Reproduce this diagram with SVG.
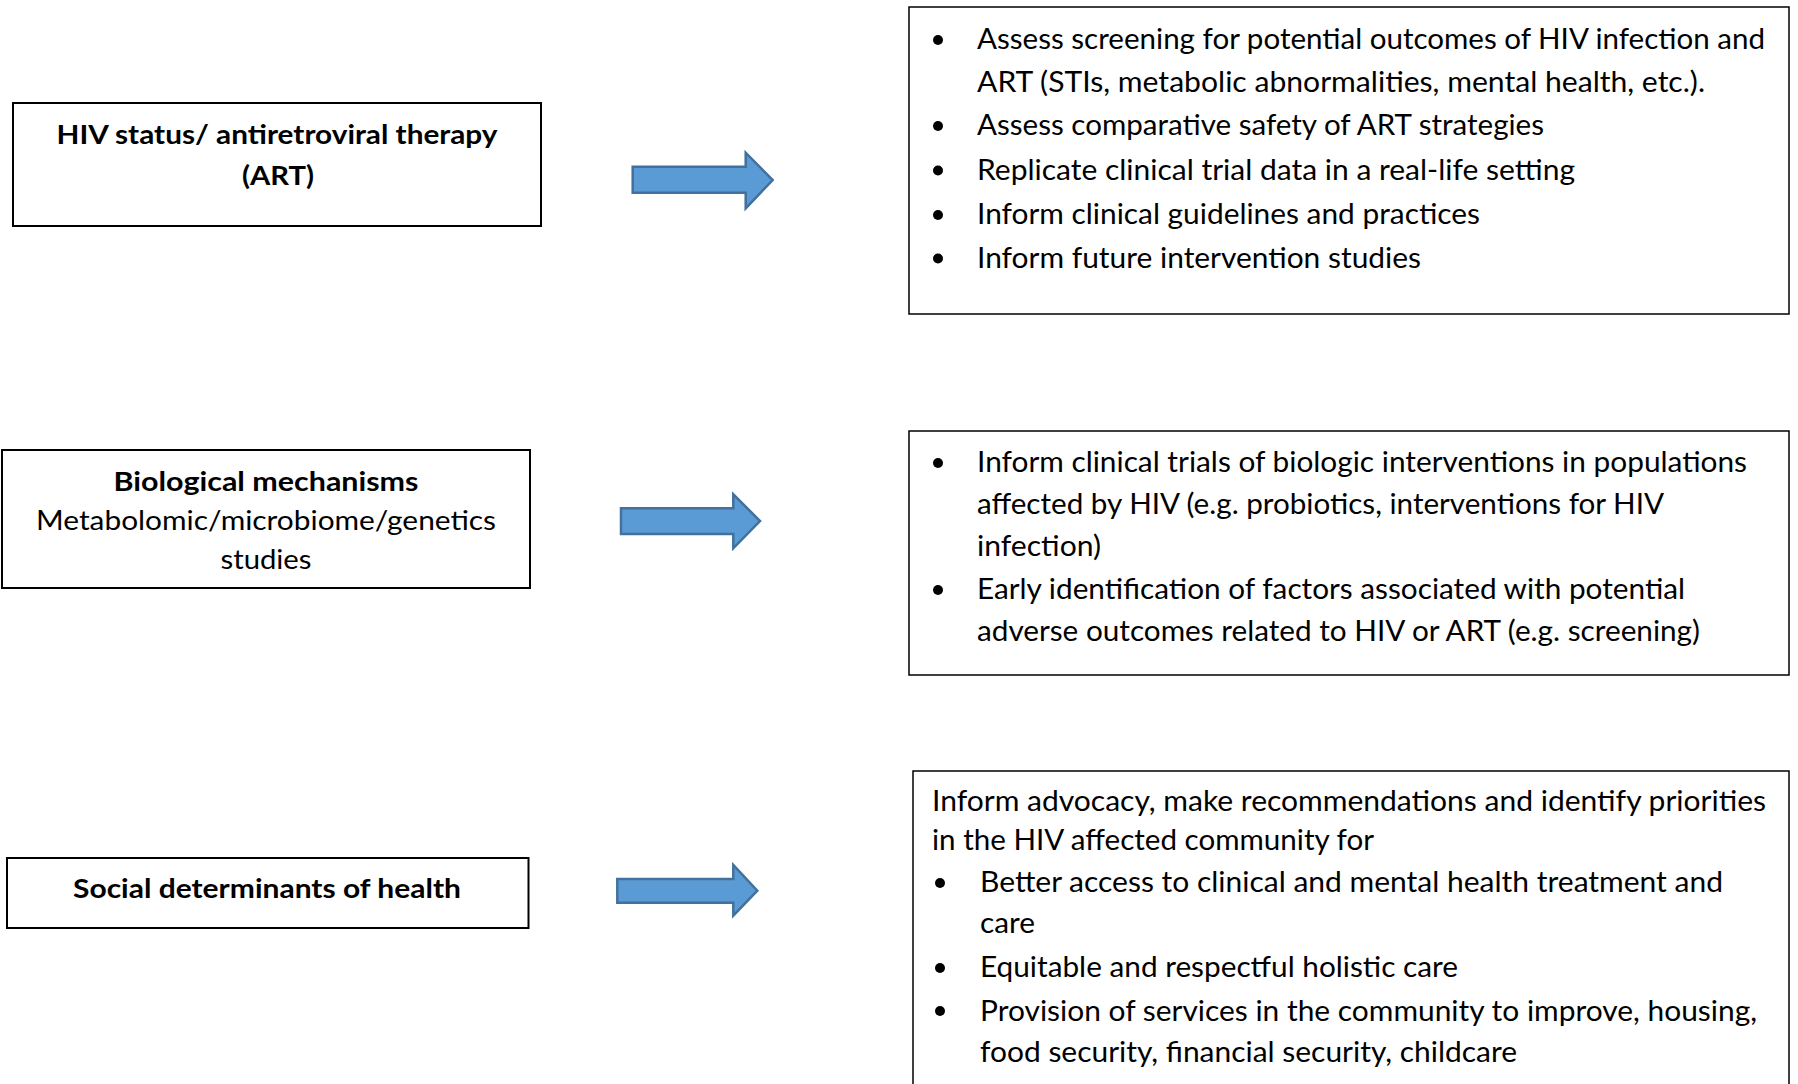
<svg xmlns="http://www.w3.org/2000/svg" width="1798" height="1084" viewBox="0 0 1798 1084">
<style>
.box{fill:#fff;stroke:#000;stroke-width:2}
.t{font-family:Lato,"Open Sans","Liberation Sans",sans-serif;fill:#000}
.r{font-size:29px}
.l{font-size:27px}
.b{font-weight:bold}
.m{text-anchor:middle}
.arrow{fill:#5B9BD5;stroke:#41719C;stroke-width:2.5}
.dot{fill:#000}
</style>
<rect width="1798" height="1084" fill="#fff"/>
<g id="node-hiv-art">
<rect class="box" x="13" y="103" width="528" height="123"/>
<text class="t l b m" x="277" y="143.5" textLength="441" lengthAdjust="spacingAndGlyphs">HIV status/ antiretroviral therapy</text>
<text class="t l b m" x="278" y="185" textLength="72" lengthAdjust="spacingAndGlyphs">(ART)</text>
</g>
<g id="node-bio">
<rect class="box" x="2" y="450" width="528" height="138"/>
<text class="t l b m" x="266" y="491" textLength="305" lengthAdjust="spacingAndGlyphs">Biological mechanisms</text>
<text class="t l m" x="266" y="530" textLength="460" lengthAdjust="spacingAndGlyphs">Metabolomic/microbiome/genetics</text>
<text class="t l m" x="266" y="569" textLength="91" lengthAdjust="spacingAndGlyphs">studies</text>
</g>
<g id="node-social">
<rect class="box" x="7" y="858" width="521.5" height="70"/>
<text class="t l b m" x="267" y="898" textLength="388" lengthAdjust="spacingAndGlyphs">Social determinants of health</text>
</g>
<g id="node-out1">
<rect class="box" x="909" y="7" width="880" height="307" style="stroke-width:1.5"/>
<circle class="dot" cx="938" cy="40" r="5"/>
<circle class="dot" cx="938" cy="126" r="5"/>
<circle class="dot" cx="938" cy="170.5" r="5"/>
<circle class="dot" cx="938" cy="215" r="5"/>
<circle class="dot" cx="938" cy="258.5" r="5"/>
<text class="t r" x="977" y="49" textLength="788" lengthAdjust="spacingAndGlyphs">Assess screening for potential outcomes of HIV infection and</text>
<text class="t r" x="977" y="92" textLength="728" lengthAdjust="spacingAndGlyphs">ART (STIs, metabolic abnormalities, mental health, etc.).</text>
<text class="t r" x="977" y="135" textLength="567" lengthAdjust="spacingAndGlyphs">Assess comparative safety of ART strategies</text>
<text class="t r" x="977" y="179.5" textLength="598" lengthAdjust="spacingAndGlyphs">Replicate clinical trial data in a real-life setting</text>
<text class="t r" x="977" y="224" textLength="503" lengthAdjust="spacingAndGlyphs">Inform clinical guidelines and practices</text>
<text class="t r" x="977" y="267.5" textLength="444" lengthAdjust="spacingAndGlyphs">Inform future intervention studies</text>
</g>
<g id="node-out2">
<rect class="box" x="909" y="431" width="880" height="244" style="stroke-width:1.5"/>
<circle class="dot" cx="938" cy="463" r="5"/>
<circle class="dot" cx="938" cy="590" r="5"/>
<text class="t r" x="977" y="472" textLength="770" lengthAdjust="spacingAndGlyphs">Inform clinical trials of biologic interventions in populations</text>
<text class="t r" x="977" y="514" textLength="687" lengthAdjust="spacingAndGlyphs">affected by HIV (e.g. probiotics, interventions for HIV</text>
<text class="t r" x="977" y="556" textLength="124" lengthAdjust="spacingAndGlyphs">infection)</text>
<text class="t r" x="977" y="599" textLength="708" lengthAdjust="spacingAndGlyphs">Early identification of factors associated with potential</text>
<text class="t r" x="977" y="641" textLength="723" lengthAdjust="spacingAndGlyphs">adverse outcomes related to HIV or ART (e.g. screening)</text>
</g>
<g id="node-out3">
<rect class="box" x="913" y="771" width="876" height="330" style="stroke-width:1.5"/>
<circle class="dot" cx="940" cy="883" r="5"/>
<circle class="dot" cx="940" cy="968" r="5"/>
<circle class="dot" cx="940" cy="1011" r="5"/>
<text class="t r" x="932" y="811" textLength="834" lengthAdjust="spacingAndGlyphs">Inform advocacy, make recommendations and identify priorities</text>
<text class="t r" x="932" y="850" textLength="442" lengthAdjust="spacingAndGlyphs">in the HIV affected community for</text>
<text class="t r" x="980" y="892" textLength="743" lengthAdjust="spacingAndGlyphs">Better access to clinical and mental health treatment and</text>
<text class="t r" x="980" y="933" textLength="55" lengthAdjust="spacingAndGlyphs">care</text>
<text class="t r" x="980" y="977" textLength="478" lengthAdjust="spacingAndGlyphs">Equitable and respectful holistic care</text>
<text class="t r" x="980" y="1020.5" textLength="777" lengthAdjust="spacingAndGlyphs">Provision of services in the community to improve, housing,</text>
<text class="t r" x="980" y="1062" textLength="537" lengthAdjust="spacingAndGlyphs">food security, financial security, childcare</text>
</g>
<g id="connectors">
<path class="arrow" d="M632.7,166.7 H745.7 V152.7 L772.7,180 L745.7,208.3 V192.7 H632.7 Z"/>
<path class="arrow" d="M621,508.3 H733.3 V494.3 L760,521 L733.3,548.3 V534 H621 Z"/>
<path class="arrow" d="M617.3,879 H733.3 V865 L757.3,890.7 L733.3,915.7 V902.7 H617.3 Z"/>
</g>
</svg>
